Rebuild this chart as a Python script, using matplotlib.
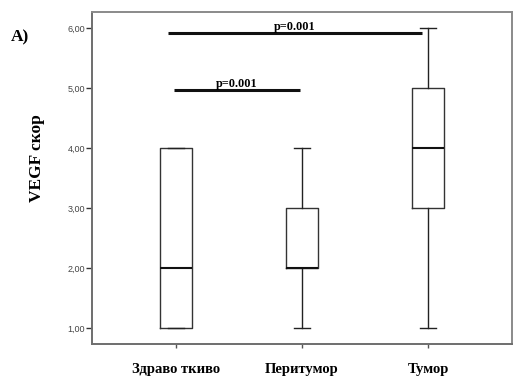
import matplotlib
matplotlib.use("Agg")
import matplotlib.pyplot as plt

# Group labels and five-number summaries of the VEGF score
groups = ["Здраво ткиво", "Перитумор", "Тумор"]
whisker_low = [1.0, 1.0, 1.0]
q1 = [1.0, 2.0, 3.0]
median = [2.0, 2.0, 4.0]
q3 = [4.0, 3.0, 5.0]
whisker_high = [4.0, 4.0, 6.0]

yticks = [1, 2, 3, 4, 5, 6]
ytick_labels = ["1,00", "2,00", "3,00", "4,00", "5,00", "6,00"]

# Pairwise comparisons: (group a, group b, bar level, label)
comparisons = [
    (0, 1, 4.97, "p=0.001"),
    (0, 2, 5.92, "p=0.001"),
]

serif = ["Liberation Serif", "DejaVu Serif"]
sans = ["Liberation Sans", "DejaVu Sans"]

fig = plt.figure(figsize=(5.13, 3.77), dpi=100)
ax = fig.add_axes([92 / 513, 33 / 377, 420 / 513, 332 / 377])

stats = []
for i, g in enumerate(groups):
    stats.append(dict(label=g, whislo=whisker_low[i], q1=q1[i], med=median[i],
                      q3=q3[i], whishi=whisker_high[i], fliers=[]))

positions = list(range(len(groups)))
ax.bxp(stats, positions=positions, widths=0.254, showfliers=False,
       boxprops=dict(color="#333333", linewidth=1.0),
       medianprops=dict(color="#111111", linewidth=1.5),
       whiskerprops=dict(color="#222222", linewidth=1.0),
       capprops=dict(color="#222222", linewidth=1.0),
       capwidths=0.12)

ax.set_xlim(-0.667, 2.667)
ax.set_ylim(0.73, 6.27)
ax.set_yticks(yticks)
ax.set_yticklabels(ytick_labels, fontfamily=sans, fontsize=6.5, color="#444444")
ax.set_xticks(positions)
ax.set_xticklabels(groups, fontfamily=serif, fontsize=10.5, fontweight="bold")
ax.tick_params(axis="y", length=4, width=1, color="#333333", pad=1)
ax.tick_params(axis="x", length=3, width=1, color="#555555", pad=11)

for side, col in [("left", "#6e6e6e"), ("bottom", "#6e6e6e"),
                  ("top", "#8a8a8a"), ("right", "#8a8a8a")]:
    ax.spines[side].set_color(col)
    ax.spines[side].set_linewidth(1.4)

fig.text(37 / 513, 1 - 158 / 377, "VEGF скор", fontfamily=serif, fontsize=12.5,
         fontweight="bold", rotation=90, ha="center", va="center")

for a, b, level, text in comparisons:
    xa = a - 0.015 if b == 1 else a - 0.063
    xb = b - 0.016 if b == 1 else b - 0.05
    ax.plot([xa, xb], [level, level], color="#111111", linewidth=2.2,
            solid_capstyle="butt")
    ax.text((xa + xb) / 2, level + 0.0, text,
            ha="center", va="bottom", fontfamily=serif, fontsize=8.8,
            fontweight="bold")

fig.text(11 / 513, 1 - 37 / 377, "A)", fontfamily=serif, fontsize=12.5,
         fontweight="bold", va="center", ha="left")

fig.savefig("out.png", dpi=100)
